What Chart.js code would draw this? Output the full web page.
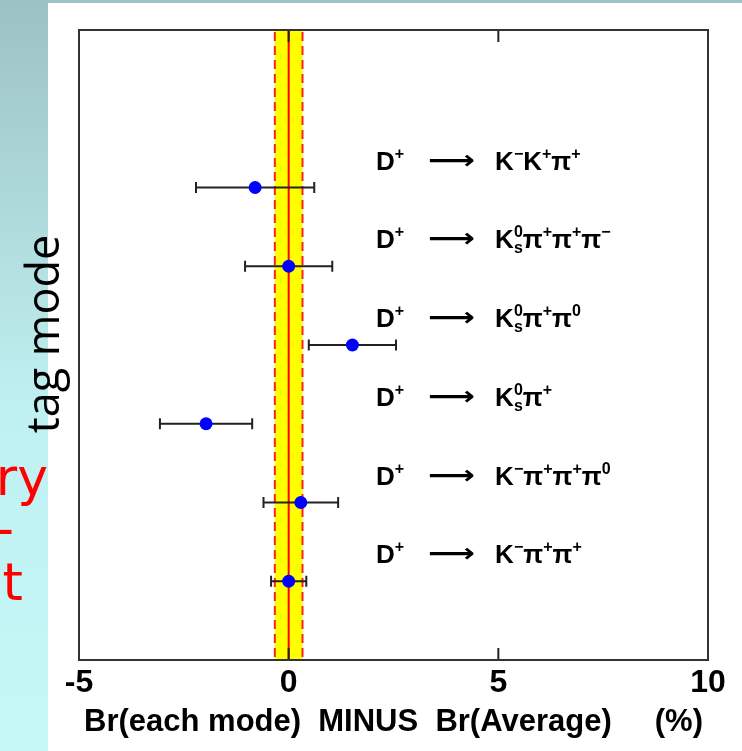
<!DOCTYPE html>
<html><head><meta charset="utf-8">
<script src="https://cdn.jsdelivr.net/npm/chart.js@4"></script>
<style>html,body{margin:0;padding:0;background:#fff;overflow:hidden}#wrap{width:742px;height:751px}</style>
</head><body><div id="wrap"><canvas id="c" width="742" height="751"></canvas></div>
<script>
// D+ tag modes, top to bottom, with the row each one sits on
const modes = [
  "D^{+}⟶K^{−}K^{+}π^{+}",
  "D^{+}⟶K_{s}^{0}π^{+}π^{+}π^{−}",
  "D^{+}⟶K_{s}^{0}π^{+}π^{0}",
  "D^{+}⟶K_{s}^{0}π^{+}",
  "D^{+}⟶K^{−}π^{+}π^{+}π^{0}",
  "D^{+}⟶K^{−}π^{+}π^{+}"
];
const rowPos = [6, 5, 4, 3, 2, 1];
// Br(mode) - Br(average), in %
const diffs = [-0.80, 0.00, 1.52, -1.97, 0.29, 0.00];
const errs  = [1.41, 1.04, 1.04, 1.10, 0.89, 0.42];
// uncertainty on the average
const avgErr = 0.33;
const xTicks = [-5, 0, 5, 10];

const mainFont = 'bold 26px "Liberation Sans", Arial, sans-serif';
const scriptFont = 'bold 16px "Liberation Sans", Arial, sans-serif';
const arrowFont = 'bold 26px "DejaVu Sans", sans-serif';

function parseMode(s) {
  const segs = []; let buf = ''; let i = 0;
  const flush = () => { if (buf) { segs.push({k: 'n', t: buf}); buf = ''; } };
  while (i < s.length) {
    const c = s[i];
    if ((c === '^' || c === '_') && s[i + 1] === '{') {
      flush();
      const end = s.indexOf('}', i);
      const txt = s.slice(i + 2, end);
      const key = c === '^' ? 'sup' : 'sub';
      const last = segs[segs.length - 1];
      if (last && last.k === 's' && !last[key]) last[key] = txt;
      else segs.push({k: 's', [key]: txt});
      i = end + 1; continue;
    }
    if (c === '⟶') { flush(); segs.push({k: 'a', t: c}); i++; continue; }
    buf += c; i++;
  }
  flush();
  return segs;
}

function drawMode(ctx, segs, x, yMid) {
  const base = yMid + 9;
  let cx = x;
  ctx.textAlign = 'left';
  ctx.textBaseline = 'alphabetic';
  ctx.fillStyle = '#000';
  for (const s of segs) {
    if (s.k === 'n') {
      for (const ch of s.t) {
        ctx.font = mainFont; ctx.fillText(ch, cx, base); cx += ctx.measureText(ch).width;
      }
    } else if (s.k === 'a') {
      cx += 24;
      ctx.font = arrowFont;
      const w = ctx.measureText(s.t).width;
      const sx = 47 / w;
      ctx.save(); ctx.translate(cx, base - 1); ctx.scale(sx, 1);
      ctx.fillText(s.t, 0, 0); ctx.restore();
      cx += 47 + 20;
    } else {
      ctx.font = scriptFont; let w = 0;
      if (s.sup) { ctx.fillText(s.sup, cx, base - 11); w = Math.max(w, ctx.measureText(s.sup).width); }
      if (s.sub) { ctx.fillText(s.sub, cx, base + 5); w = Math.max(w, ctx.measureText(s.sub).width); }
      cx += w;
    }
  }
}

const parsed = modes.map(parseMode);

const decor = {
  id: 'decor',
  beforeDraw(chart) {
    const ctx = chart.ctx;
    const W = chart.width, H = chart.height;
    ctx.save();
    // slide background
    const g = ctx.createLinearGradient(0, 0, 0, H);
    g.addColorStop(0, '#9cc2c3');
    g.addColorStop(0.55, '#c0f1f2');
    g.addColorStop(1, '#c6f8f8');
    ctx.fillStyle = g;
    ctx.fillRect(0, 0, W, H);
    // red slide text running under the panel
    ctx.fillStyle = '#ff0000';
    ctx.font = '52px "DejaVu Sans", sans-serif';
    ctx.textAlign = 'right';
    ctx.textBaseline = 'alphabetic';
    ctx.fillText('ry', 48, 495);
    ctx.fillText('-', 14, 546);
    ctx.fillText('t', 23, 600);
    // white panel
    ctx.fillStyle = '#ffffff';
    ctx.fillRect(48, 3, W - 48, H - 3);

    const a = chart.chartArea, xs = chart.scales.x;
    const xl = xs.getPixelForValue(-avgErr), xr = xs.getPixelForValue(avgErr), x0 = xs.getPixelForValue(0);
    ctx.fillStyle = '#ffff00';
    ctx.fillRect(xl, a.top, xr - xl, a.bottom - a.top);
    ctx.strokeStyle = '#ff2020';
    ctx.lineWidth = 2;
    ctx.setLineDash([9, 5]);
    for (const xv of [xl, xr]) {
      ctx.beginPath(); ctx.moveTo(xv, a.top + 2); ctx.lineTo(xv, a.bottom); ctx.stroke();
    }
    ctx.setLineDash([]);
    ctx.strokeStyle = '#ff0000';
    ctx.beginPath(); ctx.moveTo(x0, a.top); ctx.lineTo(x0, a.bottom); ctx.stroke();
    ctx.restore();
  },
  beforeDatasetsDraw(chart) {
    const ctx = chart.ctx, xs = chart.scales.x, ys = chart.scales.y, a = chart.chartArea;
    ctx.save();
    // frame and inner ticks
    ctx.strokeStyle = '#222';
    ctx.lineWidth = 2;
    for (const t of xTicks) {
      const px = xs.getPixelForValue(t);
      ctx.beginPath(); ctx.moveTo(px, a.bottom); ctx.lineTo(px, a.bottom - 12); ctx.stroke();
      ctx.beginPath(); ctx.moveTo(px, a.top); ctx.lineTo(px, a.top + 12); ctx.stroke();
    }
    ctx.strokeStyle = '#333';
    ctx.strokeRect(a.left, a.top, a.right - a.left, a.bottom - a.top);
    // error bars
    ctx.strokeStyle = '#222';
    ctx.lineWidth = 2;
    diffs.forEach((v, i) => {
      const y = ys.getPixelForValue(rowPos[i]);
      const l = xs.getPixelForValue(v - errs[i]), r = xs.getPixelForValue(v + errs[i]);
      ctx.beginPath();
      ctx.moveTo(l, y); ctx.lineTo(r, y);
      ctx.moveTo(l, y - 5.5); ctx.lineTo(l, y + 5.5);
      ctx.moveTo(r, y - 5.5); ctx.lineTo(r, y + 5.5);
      ctx.stroke();
    });
    ctx.restore();
  },
  afterDraw(chart) {
    const ctx = chart.ctx, ys = chart.scales.y;
    ctx.save();
    parsed.forEach((segs, i) => {
      drawMode(ctx, segs, 376, ys.getPixelForValue(rowPos[i]) - 27);
    });
    ctx.translate(46, 334);
    ctx.rotate(-Math.PI / 2);
    ctx.fillStyle = '#000';
    ctx.font = '45px "Open Sans", sans-serif';
    ctx.textAlign = 'center';
    ctx.textBaseline = 'middle';
    ctx.fillText('tag mode', 0, 0);
    ctx.restore();
  }
};

new Chart(document.getElementById('c'), {
  type: 'scatter',
  data: {
    datasets: [{
      data: diffs.map((v, i) => ({x: v, y: rowPos[i]})),
      backgroundColor: '#0000ff',
      borderWidth: 0,
      pointRadius: 6.5,
      pointHoverRadius: 6.5
    }]
  },
  options: {
    responsive: false,
    animation: false,
    events: [],
    layout: {padding: {left: 79, right: 34, top: 30, bottom: 0}},
    plugins: {legend: {display: false}, tooltip: {enabled: false}},
    scales: {
      x: {
        type: 'linear', min: -5, max: 10,
        afterBuildTicks(scale) { scale.ticks = xTicks.map(v => ({value: v})); },
        afterFit(scale) { scale.height = 91; },
        grid: {display: false, drawTicks: false},
        border: {display: false},
        ticks: {color: '#000', padding: 4, maxRotation: 0,
                font: {family: '"Liberation Sans", Arial, sans-serif', size: 32, weight: 'bold'}},
        title: {display: true, text: 'Br(each mode)  MINUS  Br(Average)     (%)', color: '#000',
                padding: {top: 0, bottom: 10},
                font: {family: '"Liberation Sans", Arial, sans-serif', size: 31, weight: 'bold'}}
      },
      y: {type: 'linear', min: 0, max: 8, display: false}
    }
  },
  plugins: [decor]
});
</script>
</body></html>
